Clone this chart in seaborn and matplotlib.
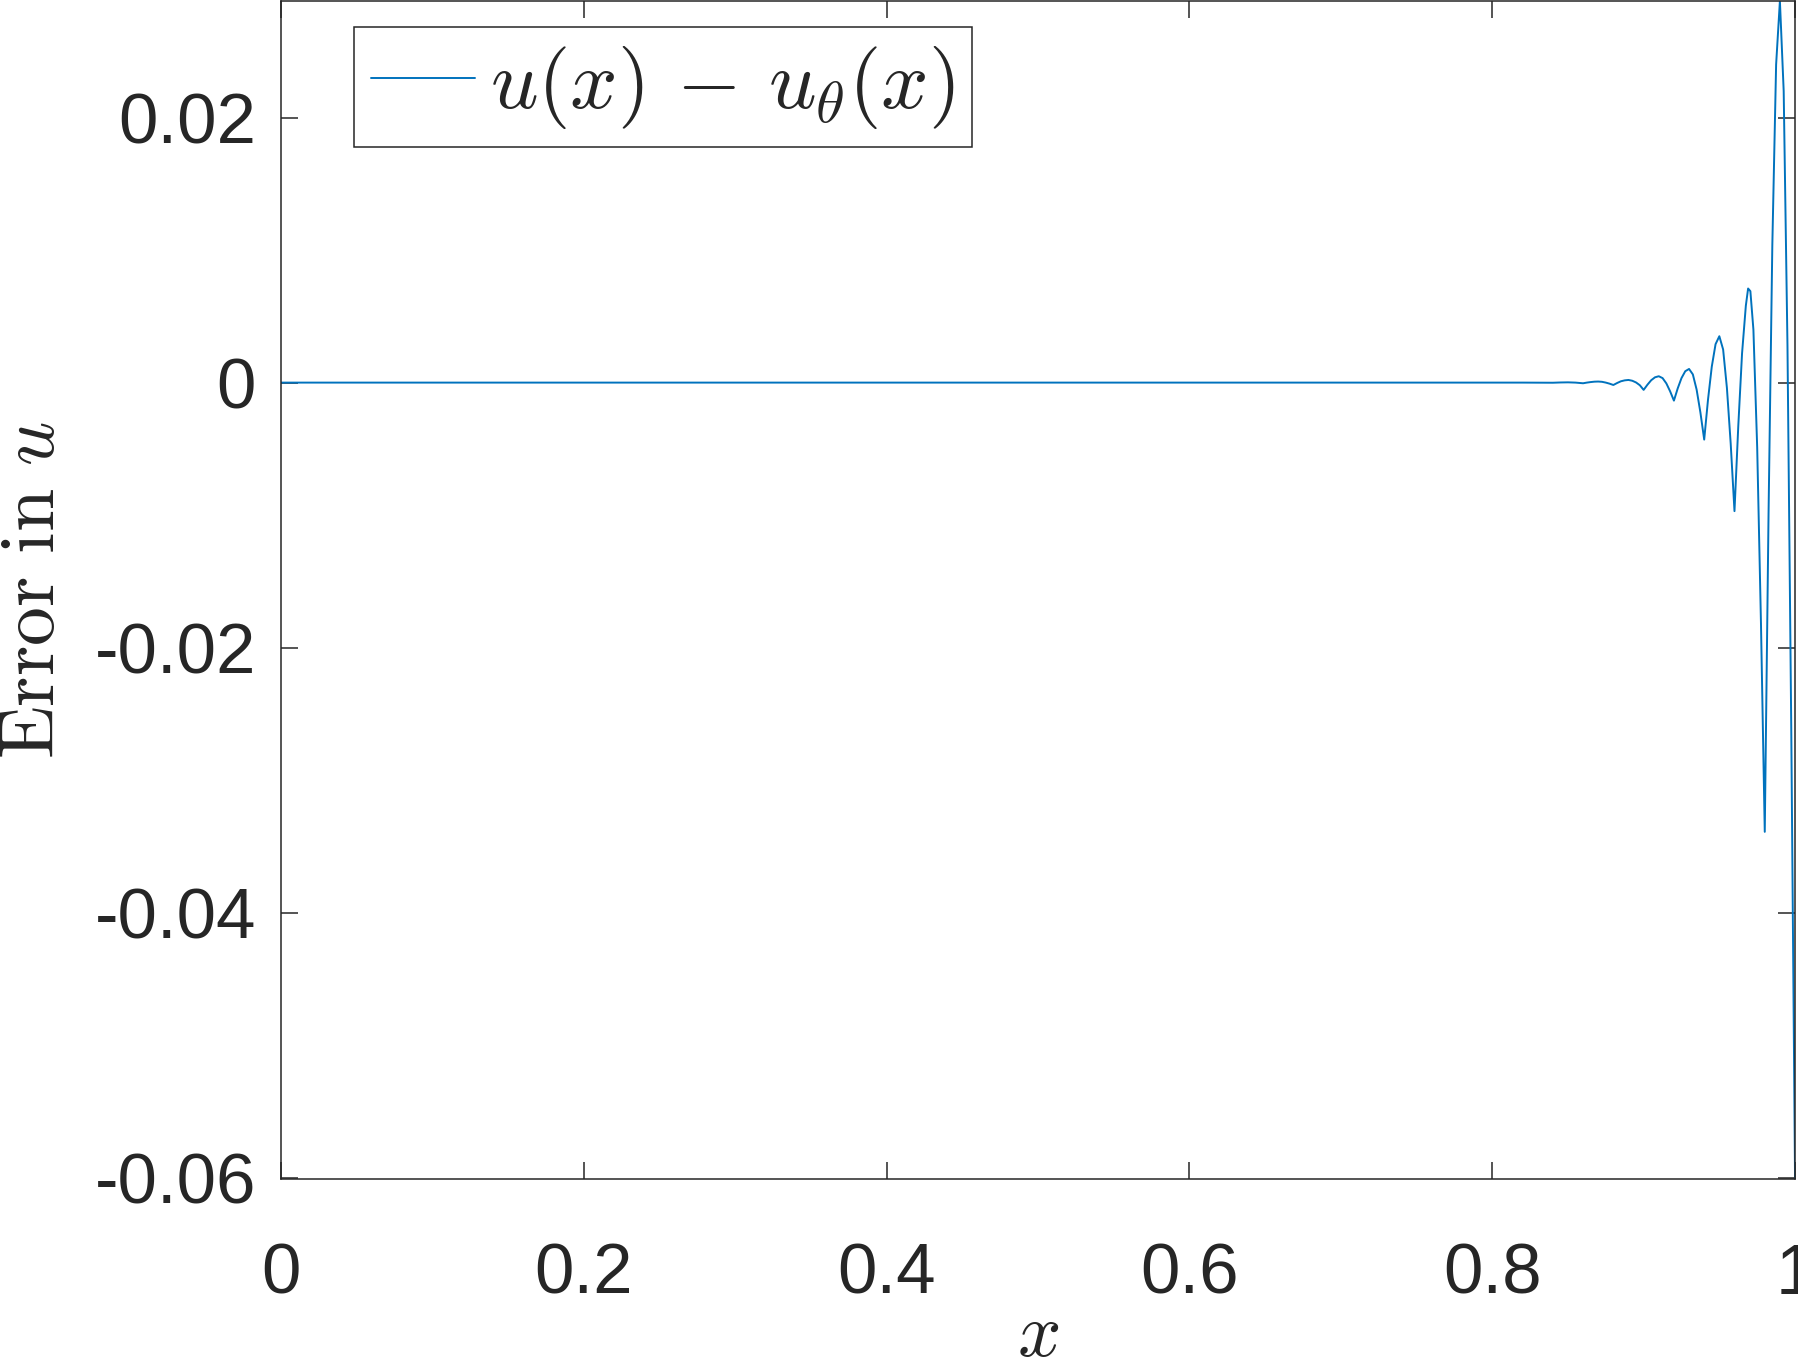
import pandas as pd
import matplotlib
matplotlib.use("Agg")
import matplotlib.pyplot as plt
import seaborn as sns

# Estilo geral (o font.family vem depois do set_style)
sns.set_style("ticks")
plt.rcParams['font.family'] = ['Liberation Sans', 'DejaVu Sans']
plt.rcParams['mathtext.fontset'] = 'cm'

# ==============================================================================
# Dados: erro u(x) - u_theta(x)
# ==============================================================================
x_vals = [0.0, 0.2, 0.4, 0.6, 0.8, 0.82, 0.84, 0.845, 0.85, 0.855,
          0.86, 0.8625, 0.865, 0.8675, 0.87, 0.8725, 0.875, 0.8775,
          0.88, 0.8825, 0.885, 0.8875, 0.89, 0.8925, 0.895, 0.8975,
          0.90, 0.9025, 0.905, 0.9075, 0.91, 0.9125, 0.915, 0.9175,
          0.92, 0.9225, 0.925, 0.9275, 0.93, 0.9325, 0.935, 0.9375,
          0.94, 0.9425, 0.945, 0.9475, 0.95, 0.9525, 0.955, 0.9575,
          0.96, 0.9625, 0.965, 0.9675, 0.969, 0.9705, 0.9725, 0.975, 0.9775,
          0.98, 0.9825, 0.985, 0.9875, 0.99, 0.9925, 0.995, 0.9975,
          1.0]
err_vals = [0.0, 0.0, 0.0, 0.0, 0.0, 0.0, -0.00001, 0.00001, 0.00002, 0.0,
            -0.00005, 0.0, 0.00004, 0.00007, 0.00008, 0.00006, 0.0, -0.00008,
            -0.00018, -0.00003, 0.0001, 0.00017, 0.0002, 0.00014, 0.00001, -0.0002,
            -0.00055, -0.00016, 0.00018, 0.0004, 0.00048, 0.00034, -0.00006, -0.00066,
            -0.00136, -0.00044, 0.00034, 0.00086, 0.00103, 0.00062, -0.00053, -0.00226,
            -0.0043, -0.0013, 0.0012, 0.0029, 0.0035, 0.0025, -0.0004, -0.0046,
            -0.0097, -0.0033, 0.0022, 0.0058, 0.0071, 0.0069, 0.0040, -0.0049, -0.0182,
            -0.0339, -0.0099, 0.0104, 0.024, 0.0288, 0.022, 0.0028, -0.0261,
            -0.0601]

x_ticks = [0, 0.2, 0.4, 0.6, 0.8, 1]
x_tick_labels = ['0', '0.2', '0.4', '0.6', '0.8', '1']
y_ticks = [-0.06, -0.04, -0.02, 0, 0.02]
y_tick_labels = ['-0.06', '-0.04', '-0.02', '0', '0.02']

df = pd.DataFrame({'x': x_vals, 'erro': err_vals})

# ==============================================================================
# Plotagem
# ==============================================================================
fig = plt.figure(figsize=(17.99, 13.61), dpi=100)
ax = fig.add_axes([0.1562, 0.1337, 0.8416, 0.8656])

sns.lineplot(data=df, x='x', y='erro', ax=ax, color='#0072BD',
             linewidth=1.4, label=r'$u(x) \,-\, u_\theta(x)$',
             estimator=None, sort=False)

# eixo "tight" como no MATLAB
ax.set_xlim(0, 1)
ax.set_ylim(min(err_vals), max(err_vals))

ax.set_xticks(x_ticks)
ax.set_xticklabels(x_tick_labels)
ax.set_yticks(y_ticks)
ax.set_yticklabels(y_tick_labels)

cor_eixo = '#262626'
for lado in ['left', 'right', 'top', 'bottom']:
    ax.spines[lado].set_visible(True)
    ax.spines[lado].set_color(cor_eixo)
    ax.spines[lado].set_linewidth(1.1)

ax.tick_params(axis='both', direction='in', length=12, width=1.1,
               colors=cor_eixo, top=True, right=True, labelsize=51)
ax.tick_params(axis='y', pad=18)
ax.tick_params(axis='x', pad=46)

ax.set_xlabel(r'$x$', fontsize=55, color='#262626')
ax.set_ylabel(r'$\mathrm{Error\ in\ }u$', fontsize=56, color='#262626')
ax.xaxis.label.set_va('center')
ax.yaxis.label.set_va('center')
ax.xaxis.set_label_coords(0.5, -0.1333)
ax.yaxis.set_label_coords(-0.1635, 0.5)

leg = ax.legend(loc='upper left', bbox_to_anchor=(0.0485, 0.978),
                borderaxespad=0, fontsize=60, frameon=True, fancybox=False,
                framealpha=1, edgecolor='#262626', handlelength=1.25,
                handletextpad=0.18, borderpad=0.2)
leg.get_frame().set_linewidth(1.1)

ax.grid(False)

plt.savefig('out.png', dpi=100)
